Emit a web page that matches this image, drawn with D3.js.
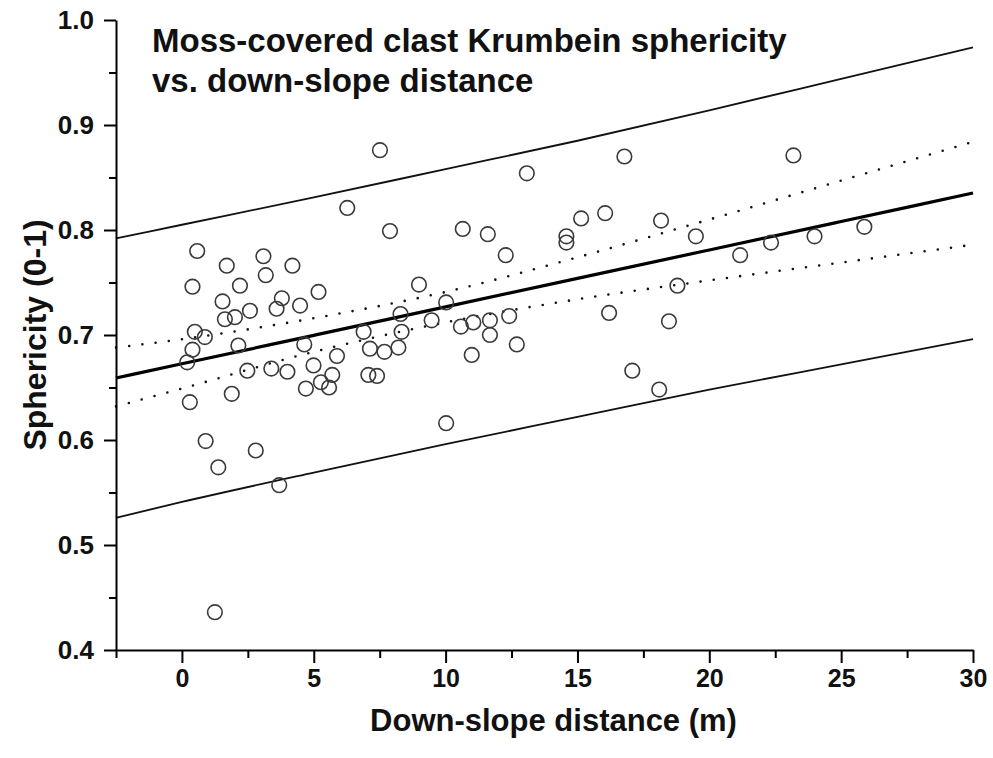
<!DOCTYPE html>
<html>
<head>
<meta charset="utf-8">
<script src="https://cdn.jsdelivr.net/npm/d3@7"></script>
<style>
  html, body { margin: 0; padding: 0; background: #fff; }
  svg { display: block; }
  text { font-family: "Liberation Sans", Arial, Helvetica, sans-serif; font-weight: bold; fill: #111; }
</style>
</head>
<body>
<div id="chart"></div>
<script>
// ---- Data ----
const distance = [0.20,0.40,0.40,0.49,0.58,0.87,0.30,0.90,1.38,1.25,
  1.54,1.70,1.63,2.01,1.89,2.20,2.14,2.48,2.58,2.80,
  3.09,3.18,3.39,3.59,3.79,3.69,4.00,4.19,4.48,4.64,
  4.70,4.99,5.18,5.27,5.58,5.70,5.88,6.27,6.89,7.07,
  7.13,7.40,7.51,7.68,7.89,8.21,8.29,8.33,8.99,9.47,
  10.02,10.02,10.65,10.58,11.05,10.99,11.60,11.68,11.68,12.28,
  12.41,12.70,13.08,14.58,14.58,15.14,16.05,16.20,16.78,17.08,
  18.10,18.17,18.47,18.79,19.49,21.17,22.34,23.19,23.99,25.88];
const sphericity = [0.674,0.746,0.686,0.703,0.780,0.698,0.636,0.599,0.574,0.436,
  0.732,0.766,0.715,0.717,0.644,0.747,0.690,0.666,0.723,0.590,
  0.775,0.757,0.668,0.725,0.735,0.557,0.665,0.766,0.728,0.691,
  0.649,0.671,0.741,0.655,0.650,0.662,0.680,0.821,0.703,0.662,
  0.687,0.661,0.876,0.684,0.799,0.688,0.720,0.703,0.748,0.714,
  0.731,0.616,0.801,0.708,0.712,0.681,0.796,0.714,0.700,0.776,
  0.718,0.691,0.854,0.794,0.788,0.811,0.816,0.721,0.870,0.666,
  0.648,0.809,0.713,0.747,0.794,0.776,0.788,0.871,0.794,0.803];

// Regression line and bands, sampled at these distances
const bandX      = [-2.5, 0, 5, 10, 15, 20, 25, 30];
const fitY       = [0.659, 0.6726, 0.6997, 0.7268, 0.7539, 0.781, 0.8081, 0.8352];
const confUpper  = [0.688, 0.696, 0.716, 0.741, 0.774, 0.810, 0.847, 0.884];
const confLower  = [0.632, 0.649, 0.684, 0.712, 0.734, 0.752, 0.769, 0.786];
const predUpper  = [0.792, 0.805, 0.831, 0.858, 0.885, 0.914, 0.944, 0.974];
const predLower  = [0.526, 0.541, 0.569, 0.596, 0.622, 0.648, 0.672, 0.696];

const xMajorTicks = [0, 5, 10, 15, 20, 25, 30];
const xMinorTicks = [-2.5, 2.5, 7.5, 12.5, 17.5, 22.5, 27.5];
const yMajorTicks = [0.4, 0.5, 0.6, 0.7, 0.8, 0.9, 1.0];
const yMinorTicks = [0.45, 0.55, 0.65, 0.75, 0.85, 0.95];

const titleLines = ["Moss-covered clast Krumbein sphericity", "vs. down-slope distance"];
const xLabel = "Down-slope distance (m)";
const yLabel = "Sphericity (0-1)";

// ---- Layout ----
const W = 993, H = 758;
const mLeft = 116, mRight = 973, mTop = 20, mBottom = 650;

const svg = d3.select("#chart").append("svg").attr("width", W).attr("height", H);
svg.append("rect").attr("width", W).attr("height", H).attr("fill", "#fff");

const x = d3.scaleLinear().domain([-2.5, 30]).range([mLeft, mRight]);
const y = d3.scaleLinear().domain([0.4, 1.0]).range([mBottom, mTop]);

// ---- Lines ----
const line = d3.line().x(d => x(d[0])).y(d => y(d[1])).curve(d3.curveMonotoneX);
const mk = arr => bandX.map((v, i) => [v, arr[i]]);

svg.append("path").datum(mk(predUpper)).attr("d", line)
  .attr("fill", "none").attr("stroke", "#111").attr("stroke-width", 1.8);
svg.append("path").datum(mk(predLower)).attr("d", line)
  .attr("fill", "none").attr("stroke", "#111").attr("stroke-width", 1.8);
svg.append("path").datum(mk(confUpper)).attr("d", line)
  .attr("fill", "none").attr("stroke", "#111").attr("stroke-width", 2.6)
  .attr("stroke-linecap", "round").attr("stroke-dasharray", "0 13.3");
svg.append("path").datum(mk(confLower)).attr("d", line)
  .attr("fill", "none").attr("stroke", "#111").attr("stroke-width", 2.6)
  .attr("stroke-linecap", "round").attr("stroke-dasharray", "0 13.3");
svg.append("path").datum(mk(fitY)).attr("d", line)
  .attr("fill", "none").attr("stroke", "#000").attr("stroke-width", 3.2);

// ---- Points ----
svg.append("g").selectAll("circle").data(distance.map((d, i) => [d, sphericity[i]]))
  .join("circle")
  .attr("cx", d => x(d[0])).attr("cy", d => y(d[1])).attr("r", 7.3)
  .attr("fill", "none").attr("stroke", "#3a3a3a").attr("stroke-width", 1.6);

// ---- Axes ----
const axisStyle = g => {
  g.select(".domain").attr("stroke", "#000").attr("stroke-width", 2);
  g.selectAll(".tick line").attr("stroke", "#000").attr("stroke-width", 2);
};

const xAxis = svg.append("g").attr("transform", `translate(0,${mBottom})`)
  .call(d3.axisBottom(x).tickValues(xMajorTicks).tickFormat(d3.format("d"))
    .tickSize(13).tickSizeOuter(0).tickPadding(6))
  .call(axisStyle);
xAxis.selectAll("text").style("font-size", "25px").style("font-family", "'Liberation Sans', Arial, sans-serif")
  .style("font-weight", "bold").attr("fill", "#111");
svg.append("g").attr("transform", `translate(0,${mBottom})`)
  .call(d3.axisBottom(x).tickValues(xMinorTicks).tickFormat("").tickSize(8).tickSizeOuter(0))
  .call(g => g.select(".domain").remove())
  .selectAll(".tick line").attr("stroke", "#000").attr("stroke-width", 2);

const yAxis = svg.append("g").attr("transform", `translate(${mLeft},0)`)
  .call(d3.axisLeft(y).tickValues(yMajorTicks).tickFormat(d3.format(".1f"))
    .tickSize(12).tickSizeOuter(0).tickPadding(10))
  .call(axisStyle);
yAxis.selectAll("text").style("font-size", "26px").style("font-family", "'Liberation Sans', Arial, sans-serif")
  .style("font-weight", "bold").attr("fill", "#111");
svg.append("g").attr("transform", `translate(${mLeft},0)`)
  .call(d3.axisLeft(y).tickValues(yMinorTicks).tickFormat("").tickSize(7).tickSizeOuter(0))
  .call(g => g.select(".domain").remove())
  .selectAll(".tick line").attr("stroke", "#000").attr("stroke-width", 2);

// ---- Labels ----
svg.append("text").attr("x", (mLeft + mRight) / 2 + 9).attr("y", 731)
  .attr("text-anchor", "middle").style("font-size", "31px").text(xLabel);
svg.append("text").attr("transform", `translate(46,${(mTop + mBottom) / 2}) rotate(-90)`)
  .attr("text-anchor", "middle").style("font-size", "32px").text(yLabel);

const title = svg.append("text").attr("x", 152).attr("y", 52).style("font-size", "33px");
titleLines.forEach((t, i) => {
  title.append("tspan").attr("x", 152).attr("y", 52 + i * 40).text(t);
});
</script>
</body>
</html>
